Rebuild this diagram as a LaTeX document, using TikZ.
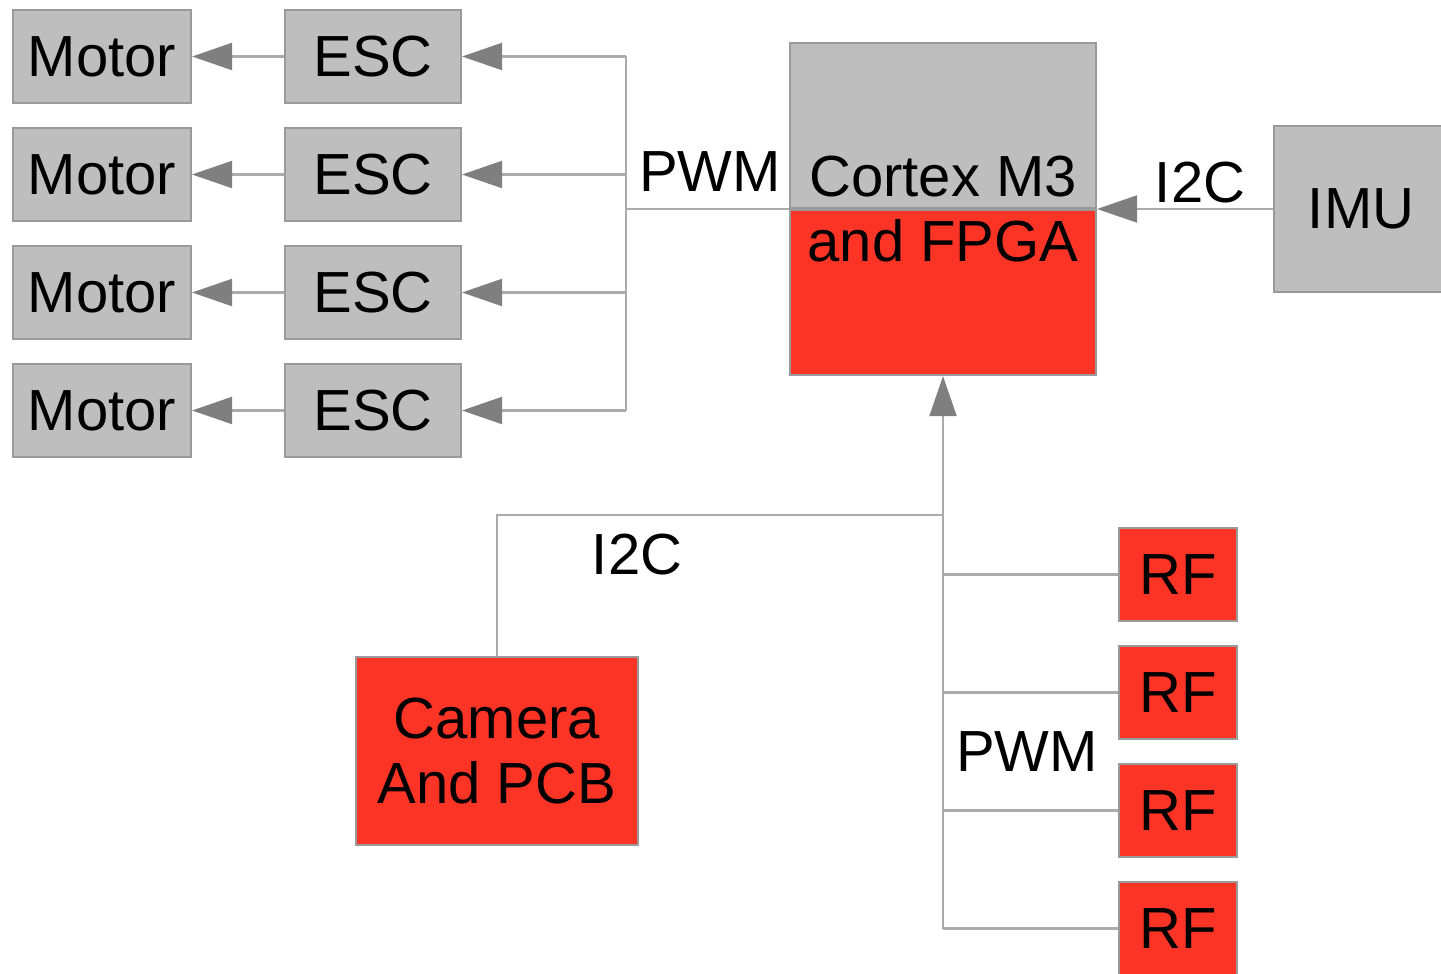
\documentclass[tikz,border=0pt]{standalone}
\usepackage{fontspec}
\setmainfont{Liberation Sans}
\usepackage{tikz}
\usetikzlibrary{
    arrows.meta,
    positioning,
    calc
}
\definecolor{boxgray}{HTML}{BEBEBE}
\definecolor{boxborder}{HTML}{9A9A9A}
\definecolor{boxred}{HTML}{FB3426}
\definecolor{wiregray}{HTML}{ABABAB}
\definecolor{tipgray}{HTML}{7F7F7F}

\begin{document}
\begin{tikzpicture}[
    graybox/.style={rectangle, draw=boxborder, line width=0.6pt, fill=boxgray, inner sep=0pt, font=\fontsize{16.5}{18.5}\selectfont},
    redbox/.style={graybox, fill=boxred},
    wire/.style={draw=wiregray, line width=0.6pt},
    feed/.style={wire, -{Triangle[length=0.4cm, width=0.27cm, color=tipgray]}},
    lbl/.style={font=\fontsize{16.5}{18.5}\selectfont, inner sep=0pt}
]
    \useasboundingbox (0,0) rectangle (14.41,-9.73);

    % Motors and ESCs
    \coordinate (bus) at (6.26,-2.09);
    \foreach \i/\y in {1/-0.565, 2/-1.745, 3/-2.925, 4/-4.105} {
        \node[graybox, minimum width=1.78cm, minimum height=0.93cm] (motor\i) at (1.02,\y) {Motor};
        \node[graybox, minimum width=1.76cm, minimum height=0.93cm] (esc\i) at (3.73,\y) {ESC};
        \draw[feed] (esc\i.west) -- (motor\i.east);
        \draw[feed] (esc\i.east -| bus) -- (esc\i.east);
    }
    \draw[wire] (esc1.east -| bus) -- (esc4.east -| bus);

    % Processor
    \node[graybox, minimum width=3.06cm, minimum height=1.65cm, anchor=south] (cpuhi) at (9.43,-2.09) {};
    \node[redbox, minimum width=3.06cm, minimum height=1.65cm, anchor=north] (cpulo) at (9.43,-2.09) {};
    \node[lbl, align=center] (cputxt) at (9.43,-2.095) {Cortex M3\\and FPGA};
    \draw[wire] (bus) -- (bus -| cpuhi.west);
    \node[lbl] (pwmtop) at (7.10,-1.72) {PWM};

    % IMU
    \node[graybox, minimum width=1.74cm, minimum height=1.66cm, anchor=west] (imu) at (12.73,-2.09) {IMU};
    \draw[feed] (imu.west) -- (imu.west -| cpulo.east);
    \node[lbl] (i2ctop) at (12.00,-1.83) {I2C};

    % Camera
    \coordinate (join) at (9.43,-5.15);
    \node[redbox, minimum width=2.82cm, minimum height=1.88cm, align=center] (camera) at (4.97,-7.51) {Camera\\And PCB};
    \draw[feed] (join) -- (cpulo.south);
    \draw[wire] (camera.north) |- (join);
    \node[lbl] (i2cbot) at (6.37,-5.55) {I2C};

    % RF receivers
    \foreach \i/\y in {1/-5.745, 2/-6.925, 3/-8.105, 4/-9.285} {
        \node[redbox, minimum width=1.18cm, minimum height=0.93cm] (rf\i) at (11.78,\y) {RF};
        \draw[wire] (rf\i.west -| join) -- (rf\i.west);
    }
    \draw[wire] (join) -- (join |- rf4.west);
    \node[lbl] (pwmbot) at (10.27,-7.52) {PWM};

\end{tikzpicture}
\end{document}
